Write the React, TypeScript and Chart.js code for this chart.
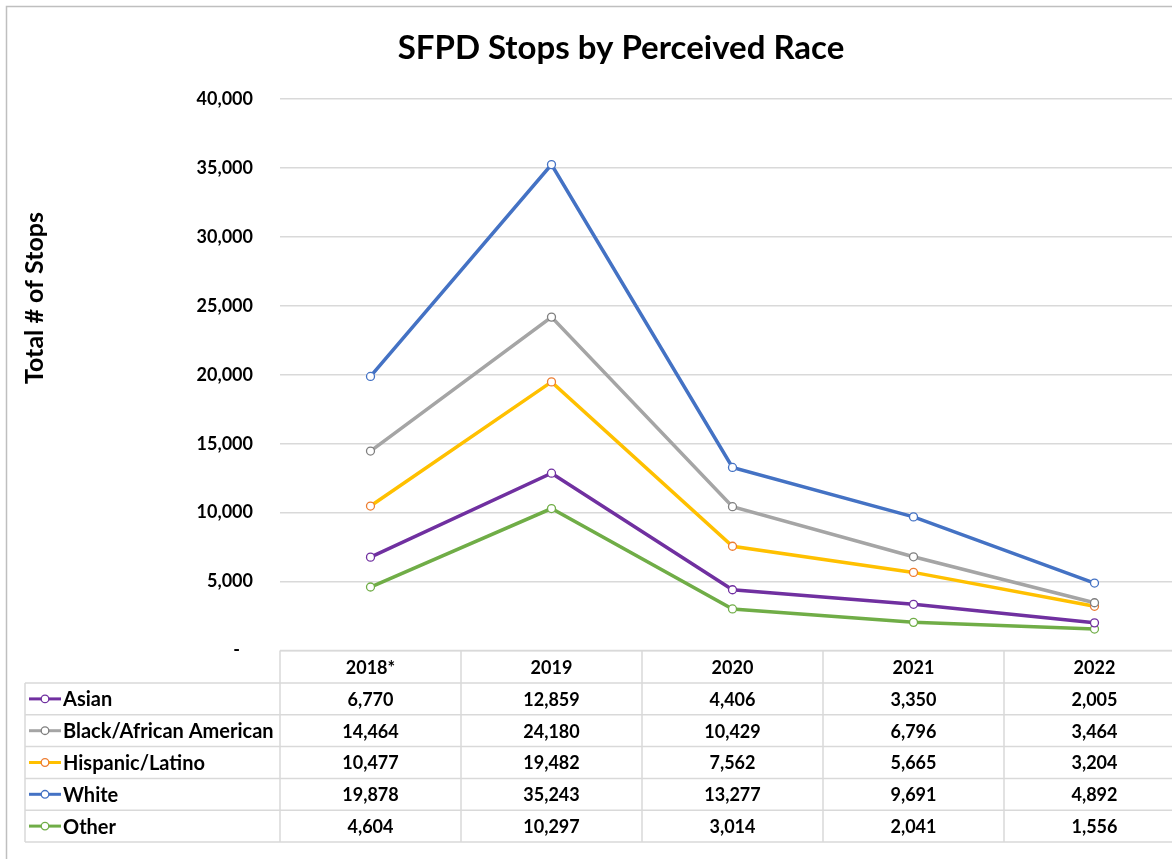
import React, { useEffect, useRef } from "react";
import { Chart, registerables } from "chart.js";

Chart.register(...registerables);

const categories = ["2018*", "2019", "2020", "2021", "2022"];
const seriesNames = ["Asian", "Black/African American", "Hispanic/Latino", "White", "Other"];
const asian = [6770, 12859, 4406, 3350, 2005];
const black = [14464, 24180, 10429, 6796, 3464];
const hispanic = [10477, 19482, 7562, 5665, 3204];
const white = [19878, 35243, 13277, 9691, 4892];
const other = [4604, 10297, 3014, 2041, 1556];
const lineColors = ["#7030A0", "#A5A5A5", "#FFC000", "#4472C4", "#70AD47"];
const markerColors = ["#7030A0", "#7F7F7F", "#ED7D31", "#4472C4", "#70AD47"];
const yTicks = [0, 5000, 10000, 15000, 20000, 25000, 30000, 35000, 40000];

const FONT = "Lato, 'Open Sans', sans-serif";
const fmt = (v: number) => v.toLocaleString("en-US");

export default function App() {
  const ref = useRef<HTMLCanvasElement | null>(null);
  useEffect(() => {
    if (!ref.current) return;
    const allSeries = [asian, black, hispanic, white, other];
    const tablePlugin = {
      id: "tablePlugin",
      afterDraw(chart: any) {
        const ctx = chart.ctx as CanvasRenderingContext2D;
        const xs = chart.scales.x;
        const area = chart.chartArea;
        const top = area.bottom;
        const headerH = 32.5;
        const rowH = 31.8;
        const legendLeft = 25;
        const colW = xs.getPixelForValue(1) - xs.getPixelForValue(0);
        const right = xs.getPixelForValue(categories.length - 1) + colW / 2;
        const bottom = top + headerH + rowH * seriesNames.length;
        ctx.save();
        // outer border of chart
        ctx.strokeStyle = "#BFBFBF";
        ctx.lineWidth = 1.5;
        ctx.strokeRect(6.5, 6.5, 1400, 1400);
        // grid of table
        ctx.strokeStyle = "#D9D9D9";
        ctx.lineWidth = 1.5;
        ctx.beginPath();
        ctx.moveTo(area.left, top);
        ctx.lineTo(right, top);
        for (let r = 0; r <= seriesNames.length; r++) {
          const y = top + headerH + r * rowH;
          ctx.moveTo(legendLeft, y);
          ctx.lineTo(right, y);
        }
        ctx.moveTo(legendLeft, top + headerH);
        ctx.lineTo(legendLeft, bottom);
        for (let c = 0; c <= categories.length; c++) {
          const x = area.left + c * colW;
          ctx.moveTo(x, top);
          ctx.lineTo(x, bottom);
        }
        ctx.stroke();
        // header text
        ctx.fillStyle = "#000";
        ctx.font = `bold 18px ${FONT}`;
        ctx.textAlign = "center";
        ctx.textBaseline = "middle";
        categories.forEach((c, i) => {
          ctx.fillText(c, xs.getPixelForValue(i), top + headerH / 2 + 1);
        });
        seriesNames.forEach((name, r) => {
          const cy = top + headerH + r * rowH + rowH / 2 + 1;
          ctx.font = `bold 18px ${FONT}`;
          allSeries[r].forEach((v, i) => {
            ctx.textAlign = "center";
            ctx.fillText(fmt(v), xs.getPixelForValue(i), cy);
          });
          // legend key
          ctx.strokeStyle = lineColors[r];
          ctx.lineWidth = 3;
          ctx.beginPath();
          ctx.moveTo(29, cy - 1);
          ctx.lineTo(61, cy - 1);
          ctx.stroke();
          ctx.beginPath();
          ctx.arc(45, cy - 1, 3.8, 0, Math.PI * 2);
          ctx.fillStyle = "#fff";
          ctx.fill();
          ctx.strokeStyle = markerColors[r];
          ctx.lineWidth = 1.3;
          ctx.stroke();
          ctx.fillStyle = "#000";
          ctx.textAlign = "left";
          ctx.font = `bold 20px ${FONT}`;
          ctx.fillText(name, 63, cy);
        });
        // title
        ctx.font = `bold 33px ${FONT}`;
        ctx.textAlign = "center";
        ctx.textBaseline = "alphabetic";
        ctx.fillText("SFPD Stops by Perceived Race", 621, 59);
        // y axis title
        ctx.translate(43, 298);
        ctx.rotate(-Math.PI / 2);
        ctx.font = `bold 25px ${FONT}`;
        ctx.fillText("Total # of Stops", 0, 0);
        ctx.restore();
      },
    };
    const chart = new Chart(ref.current, {
      type: "line",
      data: {
        labels: categories,
        datasets: allSeries.map((d, i) => ({
          label: seriesNames[i],
          data: d,
          borderColor: lineColors[i],
          backgroundColor: lineColors[i],
          borderWidth: 3.5,
          pointRadius: 4,
          pointBorderWidth: 1.3,
          pointBackgroundColor: "#ffffff",
          pointBorderColor: markerColors[i],
          tension: 0,
        })),
      },
      options: {
        responsive: false,
        animation: false,
        layout: { padding: { left: 0, top: 99, right: 15, bottom: 208.5 } },
        plugins: { legend: { display: false }, title: { display: false }, tooltip: { enabled: false } },
        scales: {
          x: { type: "category", offset: true, display: false },
          y: {
            min: 0,
            max: 40000,
            afterBuildTicks: (s: any) => {
              s.ticks = yTicks.map((v) => ({ value: v }));
            },
            afterFit: (s: any) => {
              s.width = 280;
            },
            border: { display: false },
            grid: { color: "#D9D9D9", lineWidth: 1.5, drawTicks: false },
            ticks: {
              padding: 27,
              color: "#000",
              font: { family: FONT, size: 18, weight: "bold" },
              callback: (v: any) => (Number(v) === 0 ? "-   " : fmt(Number(v))),
            },
          },
        },
      },
      plugins: [tablePlugin],
    });
    return () => chart.destroy();
  }, []);
  return (
    <div style={{ position: "fixed", left: 0, top: 0, width: 1172, height: 859, overflow: "hidden", background: "#fff" }}>
      <canvas ref={ref} width={1200} height={859} style={{ width: 1200, height: 859, display: "block" }} />
    </div>
  );
}
